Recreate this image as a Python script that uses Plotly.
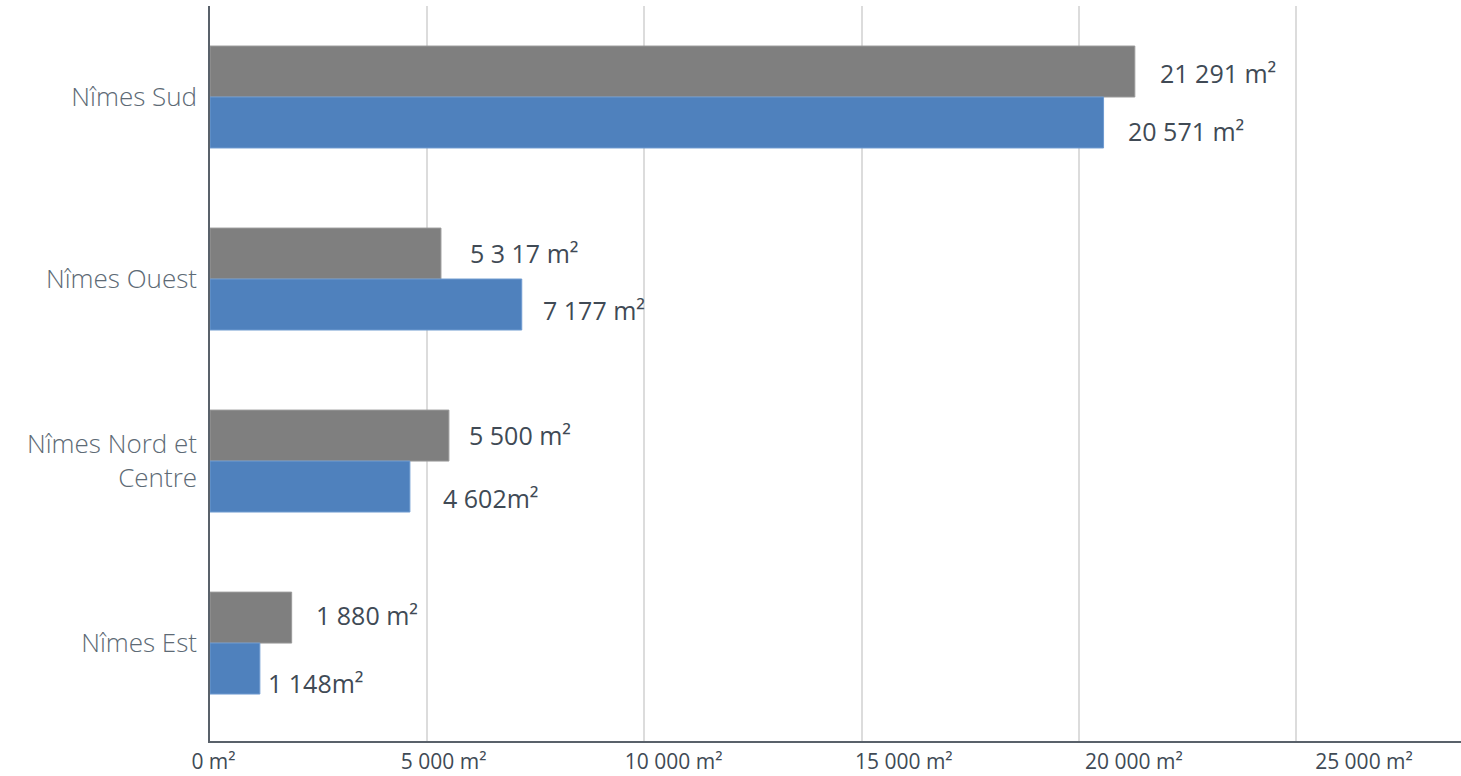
import plotly.graph_objects as go

# Surfaces par secteur (m²)
secteurs = ["Nîmes Sud", "Nîmes Ouest", "Nîmes Nord et<br>Centre", "Nîmes Est"]
surface_gris = [21291, 5317, 5500, 1880]
surface_bleu = [20571, 7177, 4602, 1148]
libelles_gris = ["21 291 m²", "5 3 17 m²", "5 500 m²", "1 880 m²"]
libelles_bleu = ["20 571 m²", "7 177 m²", "4 602m²", "1 148m²"]
graduations = [0, 5000, 10000, 15000, 20000, 25000]
libelles_graduations = ["0 m²", "5 000 m²", "10 000 m²", "15 000 m²", "20 000 m²", "25 000 m²"]

# small per-label nudges (px) for the value labels: (dx, dy)
decalage_gris = [(23, -2), (27, 0), (18, 0), (22, 2)]
decalage_bleu = [(22, -8), (19, -5), (31, -11), (6, -14)]

GRIS = "#7f7f7f"
BLEU = "#4f81bd"
TEXTE = "#404a55"

fig = go.Figure()
fig.add_trace(go.Bar(y=secteurs, x=surface_gris, orientation="h",
                     marker=dict(color=GRIS, line=dict(color="#9a9a9a", width=1)),
                     hoverinfo="skip"))
fig.add_trace(go.Bar(y=secteurs, x=surface_bleu, orientation="h",
                     marker=dict(color=BLEU, line=dict(color="#6f9bd0", width=1)),
                     hoverinfo="skip"))
# invisible helper so the label axis (x2) gets rendered
fig.add_trace(go.Scatter(x=graduations, y=[secteurs[0]] * len(graduations),
                         xaxis="x2", yaxis="y", mode="none",
                         hoverinfo="skip", showlegend=False))

annotations = []
for s, v, t, (dx, dy) in zip(secteurs, surface_gris, libelles_gris, decalage_gris):
    annotations.append(dict(x=v, y=s, xref="x", yref="y", text=t, showarrow=False,
                            xanchor="left", yanchor="middle", xshift=dx, yshift=26 + dy,
                            font=dict(family="Open Sans", size=25, color=TEXTE)))
for s, v, t, (dx, dy) in zip(secteurs, surface_bleu, libelles_bleu, decalage_bleu):
    annotations.append(dict(x=v, y=s, xref="x", yref="y", text=t, showarrow=False,
                            xanchor="left", yanchor="middle", xshift=dx, yshift=-26 + dy,
                            font=dict(family="Open Sans", size=25, color=TEXTE)))

fig.update_layout(
    width=1461, height=776,
    margin=dict(l=210, r=0, t=6, b=35),
    paper_bgcolor="white", plot_bgcolor="white",
    barmode="group", bargap=0.44, bargroupgap=0,
    showlegend=False,
    annotations=annotations,
    # value axis: gridlines and bars
    xaxis=dict(range=[0, 28800], tickvals=graduations, showticklabels=False,
               showgrid=True, gridcolor="#dcdcdc", gridwidth=1.5,
               showline=True, linecolor="#59616a", linewidth=1.5,
               zeroline=False, ticks=""),
    # scale labels along the bottom, spaced a little wider than the grid
    xaxis2=dict(overlaying="x", anchor="y", side="bottom", range=[-76, 27108],
                tickvals=graduations, ticktext=libelles_graduations,
                showgrid=False, showline=False, zeroline=False, ticks="",
                ticklabelstandoff=6,
                tickfont=dict(family="Open Sans", size=21, color=TEXTE)),
    yaxis=dict(type="category", range=[3.538, -0.5],
               showgrid=False, showline=True, linecolor="#59616a", linewidth=1.5,
               zeroline=False, ticks="", ticklabelstandoff=6,
               tickfont=dict(family="Open Sans", size=26, color="#5d6a75", weight=300)),
)

fig.write_html("out.html")
